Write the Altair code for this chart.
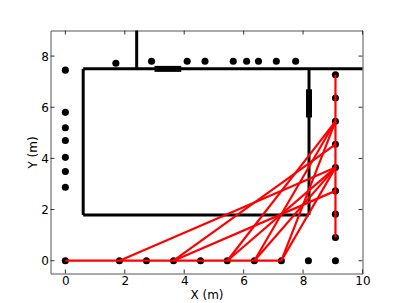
import altair as alt
import pandas as pd

bottom_x = [0, 1.82, 2.73, 3.64, 4.55, 5.45, 6.36, 7.27, 8.18, 9.09]
right_y = [0.91, 1.82, 2.73, 3.64, 4.55, 5.45, 6.36, 7.27]
left_y = [2.87, 3.49, 4.04, 4.7, 5.2, 5.8, 7.45]
top_x = [1.7, 2.9, 4.1, 4.7, 5.65, 6.1, 6.5, 7.1, 7.75]
top_y = [7.72, 7.8, 7.8, 7.8, 7.8, 7.8, 7.8, 7.8, 7.8]
x_ticks = [0, 2, 4, 6, 8, 10]
y_ticks = [0, 2, 4, 6, 8]

walls = [(0.6, 1.79, 0.6, 7.5), (0.6, 1.79, 8.2, 1.79), (8.2, 1.79, 8.2, 7.5), (0.6, 7.5, 10, 7.5), (2.4, 7.5, 2.4, 9)]
doors = [(3.0, 7.5, 3.9, 7.5), (8.2, 5.6, 8.2, 6.7)]
red = [(0, 0, 7.27, 0), (9.09, 0.91, 9.09, 7.27),
       (1.82, 0, 9.09, 3.64), (3.64, 0, 9.09, 4.55), (3.64, 0, 9.09, 2.73),
       (5.45, 0, 9.09, 5.45), (5.45, 0, 9.09, 3.64), (6.36, 0, 9.09, 5.45), (6.36, 0, 9.09, 3.64),
       (7.27, 0, 9.09, 5.45), (7.27, 0, 9.09, 3.64)]
cols = ["x", "y", "x2", "y2"]
W, H = 312, 243

pts = pd.DataFrame({"x": bottom_x + [9.09] * len(right_y) + [0] * len(left_y) + top_x,
                    "y": [0] * len(bottom_x) + right_y + left_y + top_y})
xs = alt.Scale(domain=[-0.5, 10], nice=False, zero=False)
ys = alt.Scale(domain=[-0.5, 9], nice=False, zero=False)
X = alt.X("x:Q", scale=xs, title="X (m)", axis=alt.Axis(values=x_ticks, format="d", grid=False, ticks=False,
          labelPadding=2, titleY=25, titleBaseline="alphabetic"))
Y = alt.Y("y:Q", scale=ys, title="Y (m)", axis=alt.Axis(values=y_ticks, format="d", grid=False, ticks=False,
          labelPadding=2, titleX=-14, titleBaseline="alphabetic"))

def segs(data, color, w):
    return alt.Chart(pd.DataFrame(data, columns=cols)).mark_rule(color=color, strokeWidth=w, strokeCap="butt").encode(
        x=X, y=Y, x2="x2:Q", y2="y2:Q")

xt = pd.DataFrame({"x": x_ticks})
yt = pd.DataFrame({"y": y_ticks})
tick = dict(color="#333333", size=4, thickness=1, opacity=1)
base = alt.layer(
    alt.Chart(xt).mark_tick(orient="vertical", **tick).encode(x=X, y=alt.value(2)),
    alt.Chart(xt).mark_tick(orient="vertical", **tick).encode(x=X, y=alt.value(H - 2)),
    alt.Chart(yt).mark_tick(orient="horizontal", **tick).encode(y=Y, x=alt.value(2)),
    alt.Chart(yt).mark_tick(orient="horizontal", **tick).encode(y=Y, x=alt.value(W - 2)),
    alt.Chart(pts).mark_circle(color="black", size=50, opacity=1).encode(x=X, y=Y),
    segs(walls, "black", 3),
    segs(doors, "black", 6),
    segs(red, "#ff0000", 2.2),
).properties(width=W, height=H, padding={"left": 18.5, "top": 20.5, "right": 0, "bottom": 0})
chart = base.configure_view(stroke="#555555", strokeWidth=1).configure_axis(
    labelFont="DejaVu Sans", titleFont="DejaVu Sans", labelFontSize=12, titleFontSize=12, titleFontWeight="normal",
    labelColor="black", titleColor="black", domain=False, labelFlush=False)
chart.save("out.html", embed_options={"renderer": "svg", "actions": False})
